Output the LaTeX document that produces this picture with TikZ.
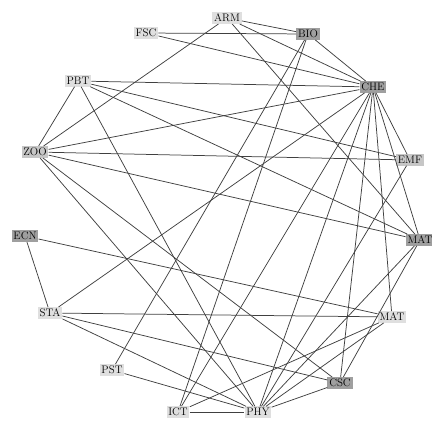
\documentclass[tikz,border=0pt]{standalone}
\usepackage{tikz}
\usetikzlibrary{positioning}
\usepackage{xcolor}

\begin{document}
\begin{tikzpicture}[
  x=1bp, y=-1bp,
  dept/.style={rectangle, fill=gray!25, inner sep=1.8pt, font=\fontsize{11}{11}\selectfont},
  hub/.style={dept, fill=gray!75},
  mid/.style={dept, fill=gray!45},
  link/.style={draw=black!75, line width=0.75pt}
]
\useasboundingbox (0,0) rectangle (432,426);

% outer ring of departments
\node[dept] (arm) at (227,18) {ARM};
\node[hub]  (bio) at (308,34) {BIO};
\node[dept] (fsc) at (146,33) {FSC};
\node[dept] (pbt) at (78,81) {PBT};
\node[hub]  (che) at (373,87) {CHE};
\node[mid]  (zoo) at (35,152) {ZOO};
\node[mid]  (emf) at (410,160) {EMF};
\node[hub]  (ecn) at (25,236) {ECN};
\node[hub]  (mar) at (420,240) {MAT};
\node[dept] (sta) at (50,313) {STA};
\node[dept] (mat) at (392,317) {MAT};
\node[dept] (pst) at (112,370) {PST};
\node[hub]  (csc) at (340,383) {CSC};
\node[dept] (ict) at (178,412) {ICT};
\node[dept] (phy) at (258,412) {PHY};

\draw[link] (arm) -- (bio);
\draw[link] (arm) -- (che);
\draw[link] (arm) -- (zoo);
\draw[link] (arm) -- (mar);
\draw[link] (fsc) -- (bio);
\draw[link] (fsc) -- (che);
\draw[link] (bio) -- (che);
\draw[link] (bio) -- (pst);
\draw[link] (bio) -- (ict);
\draw[link] (pbt) -- (che);
\draw[link] (pbt) -- (emf);
\draw[link] (pbt) -- (mar);
\draw[link] (pbt) -- (zoo);
\draw[link] (pbt) -- (phy);
\draw[link] (zoo) -- (che);
\draw[link] (zoo) -- (emf);
\draw[link] (zoo) -- (mar);
\draw[link] (zoo) -- (csc);
\draw[link] (zoo) -- (phy);
\draw[link] (che) -- (emf);
\draw[link] (che) -- (mar);
\draw[link] (che) -- (mat);
\draw[link] (che) -- (csc);
\draw[link] (che) -- (phy);
\draw[link] (che) -- (ict);
\draw[link] (che) -- (sta);
\draw[link] (emf) -- (phy);
\draw[link] (ecn) -- (sta);
\draw[link] (ecn) -- (mat);
\draw[link] (sta) -- (mat);
\draw[link] (sta) -- (csc);
\draw[link] (sta) -- (phy);
\draw[link] (mar) -- (csc);
\draw[link] (mar) -- (phy);
\draw[link] (mat) -- (phy);
\draw[link] (mat) -- (ict);
\draw[link] (csc) -- (phy);
\draw[link] (ict) -- (phy);
\draw[link] (pst) -- (phy);
\end{tikzpicture}
\end{document}
